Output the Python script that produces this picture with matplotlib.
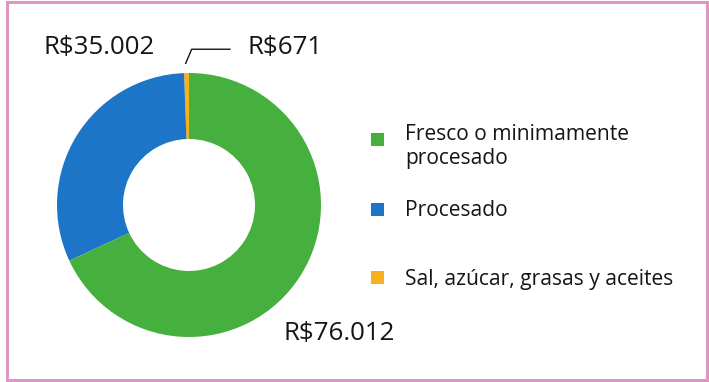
import matplotlib.pyplot as plt
from matplotlib.patches import Rectangle

# Gasto por grupo de alimentos (R$)
categorias = ["Sal, azúcar, grasas y aceites", "Procesado", "Fresco o minimamente\nprocesado"]
valores = [671, 35002, 76012]
colores = ["#F6B21A", "#1D75C8", "#45B03D"]

# orden en que aparecen en la leyenda
orden_leyenda = [2, 1, 0]

W, H = 709, 382
fig = plt.figure(figsize=(W / 100, H / 100), dpi=100)
plt.rcParams['font.family'] = ['Open Sans', 'DejaVu Sans']

# marco rosa alrededor del gráfico
fig.patches.append(Rectangle((7.5 / W, 2.5 / H), 699.5 / W, 377.5 / H,
                             transform=fig.transFigure, fill=False,
                             edgecolor="#E096C3", linewidth=2.2))

# dona: centro (189, 205) px, radio 132 px
cx, cy, r = 189, 205, 132
ax = fig.add_axes([(cx - r) / W, (H - cy - r) / H, 2 * r / W, 2 * r / H])
ax.pie(valores, colors=colores, startangle=90, counterclock=True,
       radius=1, wedgeprops=dict(width=0.5, linewidth=0))
ax.set_xlim(-1, 1)
ax.set_ylim(-1, 1)
ax.set_axis_off()


def fmt(v):
    return "R$" + f"{v:,}".replace(",", ".")


txt = dict(fontsize=18.6, color="#151515", ha="center", va="center", clip_on=False)
ax.text(-0.678, 1.19, fmt(valores[1]), **txt)
ax.text(0.727, 1.19, fmt(valores[0]), **txt)
ax.text(1.14, -0.97, fmt(valores[2]), **txt)

# línea guía para la porción pequeña
ax.plot([-0.025, 0.02, 0.31], [1.073, 1.18, 1.18], color="#151515",
        linewidth=1, clip_on=False)

# leyenda
ys_marcador = [139.5, 209.5, 277]
ys_texto = [146.5, 211, 279.5]
for i, ym, yt in zip(orden_leyenda, ys_marcador, ys_texto):
    fig.patches.append(Rectangle((371 / W, (H - ym - 6.5) / H), 13 / W, 13 / H,
                                 transform=fig.transFigure,
                                 facecolor=colores[i], edgecolor="none"))
    fig.text(405 / W, (H - yt) / H, categorias[i], fontsize=15.1, color="#151515",
             ha="left", va="center", linespacing=1.15)

fig.savefig("out.png", dpi=100)
